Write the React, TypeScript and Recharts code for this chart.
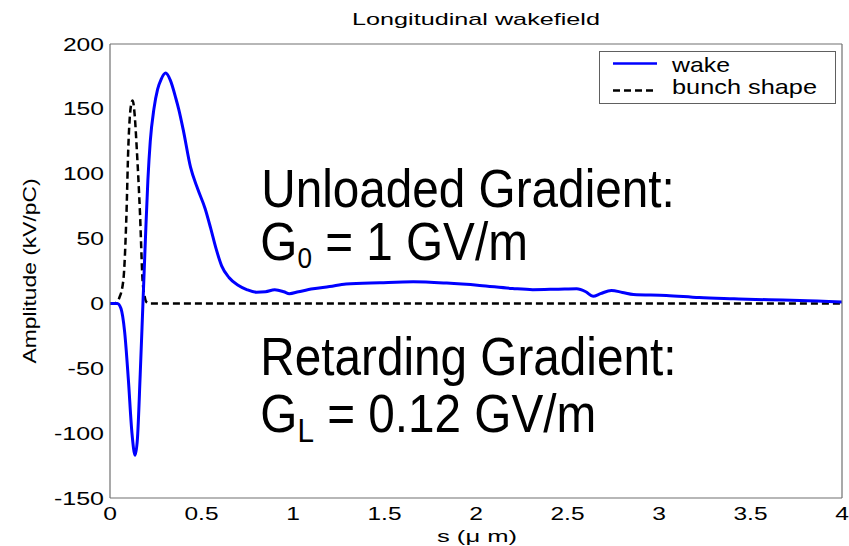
import React from 'react';
import { LineChart, Line, XAxis, YAxis, Legend, Customized } from 'recharts';

const wakeS = [0, 0.04, 0.06, 0.08, 0.1, 0.12, 0.137, 0.15, 0.165, 0.18, 0.195, 0.207, 0.22, 0.24, 0.26, 0.28, 0.304, 0.33, 0.36, 0.375, 0.4, 0.44, 0.48, 0.52, 0.55, 0.58, 0.61, 0.65, 0.7, 0.75, 0.8, 0.85, 0.9, 0.95, 0.98, 1.03, 1.11, 1.2, 1.29, 1.475, 1.657, 1.84, 2.02, 2.2, 2.31, 2.45, 2.55, 2.6, 2.64, 2.68, 2.74, 2.8, 2.86, 3.04, 3.22, 3.41, 3.6, 3.77, 4.0];
const wakeV = [0, 0, -4, -22, -58, -100, -117, -104, -55, 0, 55, 95, 125, 150, 165, 173, 177.6, 172, 158, 150, 134, 105, 88, 73, 58, 42, 29, 20, 14, 10.5, 8.7, 9, 10.5, 9, 7.5, 9, 11.3, 13, 15, 16, 16.7, 15.7, 13.9, 11.5, 10.6, 11, 11.3, 9, 5.5, 7.5, 10, 8.5, 6.9, 6.2, 4.5, 3.6, 2.8, 2.3, 1];

const bunchS = [0, 0.03, 0.036, 0.05, 0.073, 0.09, 0.1, 0.118, 0.124, 0.135, 0.146, 0.164, 0.178, 0.19, 0.2, 0.22, 4];
const bunchV = [0, 0, 1, 4, 18, 69, 120, 155, 156.5, 145, 120, 69, 18, 5, 1, 0, 0];

const xTicks = [0, 0.5, 1, 1.5, 2, 2.5, 3, 3.5, 4];
const yTicks = [-150, -100, -50, 0, 50, 100, 150, 200];
const seriesNames = ['wake', 'bunch shape'];
const titleText = 'Longitudinal wakefield';
const xLabel = 's (\u03bc m)';
const yLabel = 'Amplitude (kV/pC)';

const wakeData = wakeS.map((s, i) => ({ s, v: wakeV[i] }));
const bunchData = bunchS.map((s, i) => ({ s, v: bunchV[i] }));

const AX = '#707070';
const FONT = '"Liberation Sans", Arial, sans-serif';

const charW = (str: string) =>
  str.split('').reduce((a, c) => a + (c === '-' ? 9 : c === '.' ? 6.6 : 13.7), 0);

const YTick = (props: any) => {
  const { x, y, payload } = props;
  const s = String(payload.value);
  return (
    <text x={x} y={y + 6.5} textAnchor="end" fontSize={18} fontFamily={FONT} fill="#000"
      textLength={charW(s)} lengthAdjust="spacingAndGlyphs">{s}</text>
  );
};

const XTick = (props: any) => {
  const { x, y, payload } = props;
  const s = String(payload.value);
  return (
    <text x={x} y={y + 22} textAnchor="middle" fontSize={18} fontFamily={FONT} fill="#000"
      textLength={charW(s)} lengthAdjust="spacingAndGlyphs">{s}</text>
  );
};

const LegendContent = () => (
  <svg width={237} height={53} style={{ display: 'block' }}>
    <rect x={0.5} y={0.5} width={236} height={52} fill="#fff" stroke="#606060" strokeWidth={1} />
    <line x1={14} x2={58} y1={12.5} y2={12.5} stroke="#0000ff" strokeWidth={2.5} />
    <text x={73} y={20.5} fontSize={21} fontFamily={FONT} fill="#000" textLength={58} lengthAdjust="spacingAndGlyphs">{seriesNames[0]}</text>
    <line x1={14} x2={58} y1={39.5} y2={39.5} stroke="#000" strokeWidth={2.5} strokeDasharray="7 4" />
    <text x={73} y={42.5} fontSize={21} fontFamily={FONT} fill="#000" textLength={145} lengthAdjust="spacingAndGlyphs">{seriesNames[1]}</text>
  </svg>
);

const Annotations = () => (
  <g fontFamily={FONT} fill="#000">
    <text x={476} y={25} textAnchor="middle" fontSize={17} textLength={248} lengthAdjust="spacingAndGlyphs">{titleText}</text>
    <text x={477} y={542} textAnchor="middle" fontSize={17} textLength={80} lengthAdjust="spacingAndGlyphs">{xLabel}</text>
    <text x={36} y={271} transform="rotate(-90 36 271)" textAnchor="middle" fontSize={19} textLength={185} lengthAdjust="spacingAndGlyphs">{yLabel}</text>
    <g transform="translate(263 207) scale(0.9 1)">
      <text x={-2} y={0} fontSize={53}>Unloaded Gradient:</text>
    </g>
    <g transform="translate(263 260) scale(0.9 1)">
      <text x={-3} y={0} fontSize={53}>G<tspan fontSize={29} dy={8}>0</tspan><tspan fontSize={53} dy={-8}> = 1 GV/m</tspan></text>
    </g>
    <g transform="translate(263 375) scale(0.9 1)">
      <text x={-3} y={0} fontSize={53}>Retarding Gradient:</text>
    </g>
    <g transform="translate(263 432) scale(0.9 1)">
      <text x={-3} y={0} fontSize={53}>G<tspan fontSize={33} dy={10}>L</tspan><tspan fontSize={53} dy={-10}> = 0.12 GV/m</tspan></text>
    </g>
  </g>
);

export default function App() {
  return (
    <div style={{ position: 'absolute', left: 0, top: 0, width: 849, height: 546, background: '#fff' }}>
      <LineChart width={849} height={546} margin={{ top: 44, right: 7, bottom: 0, left: 0 }}>
        <XAxis xAxisId="b" dataKey="s" type="number" domain={[0, 4]} ticks={xTicks} interval={0}
          height={48} tickLine={false} tickSize={0} tickMargin={0} axisLine={{ stroke: AX, strokeWidth: 1.2 }}
          tick={<XTick />} allowDataOverflow />
        <XAxis xAxisId="bi" dataKey="s" type="number" domain={[0, 4]} ticks={xTicks} interval={0}
          orientation="bottom" mirror tick={false} tickSize={6} axisLine={false} tickLine={{ stroke: AX }} />
        <XAxis xAxisId="t" dataKey="s" type="number" domain={[0, 4]} ticks={xTicks} interval={0}
          orientation="top" mirror tick={false} tickSize={6} axisLine={{ stroke: AX, strokeWidth: 1.2 }} tickLine={{ stroke: AX }} />
        <YAxis yAxisId="l" type="number" domain={[-150, 200]} ticks={yTicks} interval={0}
          width={110} tickLine={false} tickSize={0} tickMargin={6} axisLine={{ stroke: AX, strokeWidth: 1.2 }}
          tick={<YTick />} allowDataOverflow />
        <YAxis yAxisId="li" type="number" domain={[-150, 200]} ticks={yTicks} interval={0}
          orientation="left" mirror tick={false} tickSize={6} axisLine={false} tickLine={{ stroke: AX }} />
        <YAxis yAxisId="r" type="number" domain={[-150, 200]} ticks={yTicks} interval={0}
          orientation="right" mirror tick={false} tickSize={6} axisLine={{ stroke: AX, strokeWidth: 1.2 }} tickLine={{ stroke: AX }} />
        <Line data={bunchData} xAxisId="b" yAxisId="l" dataKey="v" name={seriesNames[1]} type="monotone"
          stroke="#000" strokeWidth={2.5} strokeDasharray="7 4" dot={false} isAnimationActive={false} />
        <Line data={wakeData} xAxisId="b" yAxisId="l" dataKey="v" name={seriesNames[0]} type="monotone"
          stroke="#0000ff" strokeWidth={3} dot={false} isAnimationActive={false} />
        <Legend layout="vertical" align="center" verticalAlign="middle" content={LegendContent}
          wrapperStyle={{ left: 599, top: 51, width: 237, height: 53 }} />
        <Customized component={Annotations} />
      </LineChart>
    </div>
  );
}
